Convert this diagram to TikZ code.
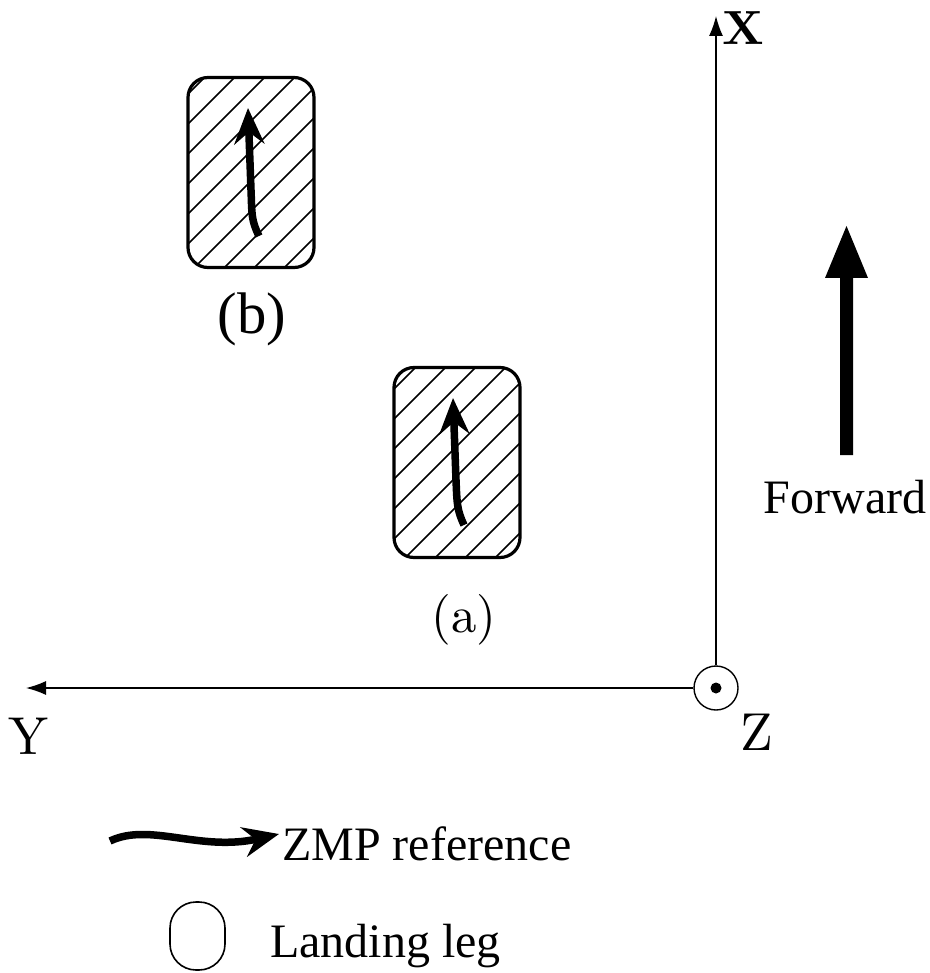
\documentclass[tikz,border=0pt]{standalone}
\usepackage{fontspec}
\setmainfont{Liberation Serif}
\newfontfamily\lmfont{lmroman10-regular.otf}[BoldFont=lmroman10-bold.otf]
\usetikzlibrary{arrows.meta,calc}
\begin{document}
\begin{tikzpicture}[x=0.75pt,y=-0.75pt,
  footbox/.style={draw,line width=3.2pt*0.75,rounded corners=20pt*0.75,
    minimum width=126pt*0.75,minimum height=190pt*0.75,inner sep=0pt,outer sep=0pt},
  zmp/.style={line width=7.5pt*0.75,-{Stealth[length=36pt*0.75,width=30pt*0.75,inset=12pt*0.75]}},
  axis/.style={line width=1.4pt*0.75,-{Latex[length=20pt*0.75,width=14pt*0.75]}},
  lbl/.style={font=\fontsize{36pt}{40pt}\selectfont,inner sep=0pt},
  axlbl/.style={font=\lmfont\fontsize{40pt}{44pt}\selectfont,inner sep=0pt},
  hatch/.style={line width=1.5pt*0.75}]
\useasboundingbox (0,0) rectangle (930,973);
% foot (b)
\node[footbox,path picture={
  \foreach \i in {-12,...,12}{
    \draw[hatch] ($(path picture bounding box.center)+(\i*30+8.5-200,200)$) -- ++(400,-400);}
  }] (fb) at (251,172.5) {};
% foot (a)
\node[footbox,path picture={
  \foreach \i in {-12,...,12}{
    \draw[hatch] ($(path picture bounding box.center)+(\i*30+13.5-200,200)$) -- ++(400,-400);}
  }] (fa) at (457,462.5) {};
% ZMP arrows
\coordinate (b0) at (259,236);
\coordinate (b1) at (248,108);
\draw[zmp] (b0) .. controls (251,220) and (252,214) .. (251,190) -- (b1);
\coordinate (a0) at (464,525);
\coordinate (a1) at (453,398);
\draw[zmp] (a0) .. controls (457,510) and (457,504) .. (456,480) -- (a1);
\node[inner sep=0pt,font=\fontsize{44pt}{48pt}\selectfont] (lb) at (252,319) {(b)};
\node[inner sep=0pt,font=\lmfont\fontsize{38pt}{42pt}\selectfont] (la) at (464,620) {(a)};
% axes
\node[draw,circle,minimum size=44pt*0.75,line width=1.4pt*0.75,inner sep=0pt] (o) at (716,688) {};
\fill (o.center) circle (5.5);
\coordinate (xe) at (716,16);
\coordinate (ye) at (26,688);
\draw[axis] (o.north) -- (xe);
\draw[axis] (o.west) -- (ye);
\node[axlbl,font=\lmfont\bfseries\fontsize{36pt}{40pt}\selectfont] (xl) at (743,28) {X};
\node[axlbl] (yl) at (28,736) {Y};
\node[axlbl] (zl) at (757,732) {Z};
% forward arrow
\fill (840,455) -- (853,455) -- (853,278) -- (868,278) -- (846.5,226) -- (825,278) -- (840,278) -- cycle;
\node[lbl,anchor=base] (fw) at (845,513) {Forward};
% legend
\coordinate (l0) at (110,841);
\coordinate (l1) at (279,834);
\draw[zmp] (l0) .. controls (150,822) and (200,852) .. (l1);
\node[lbl,anchor=base west] (zt) at (282,860) {ZMP reference};
\node[draw,line width=1.6pt*0.75,rounded corners=26pt*0.75,minimum width=55pt*0.75,minimum height=68pt*0.75,inner sep=0pt] (leg) at (197.5,936) {};
\node[lbl,anchor=base west] (lt) at (270,957) {Landing leg};
\end{tikzpicture}
\end{document}
